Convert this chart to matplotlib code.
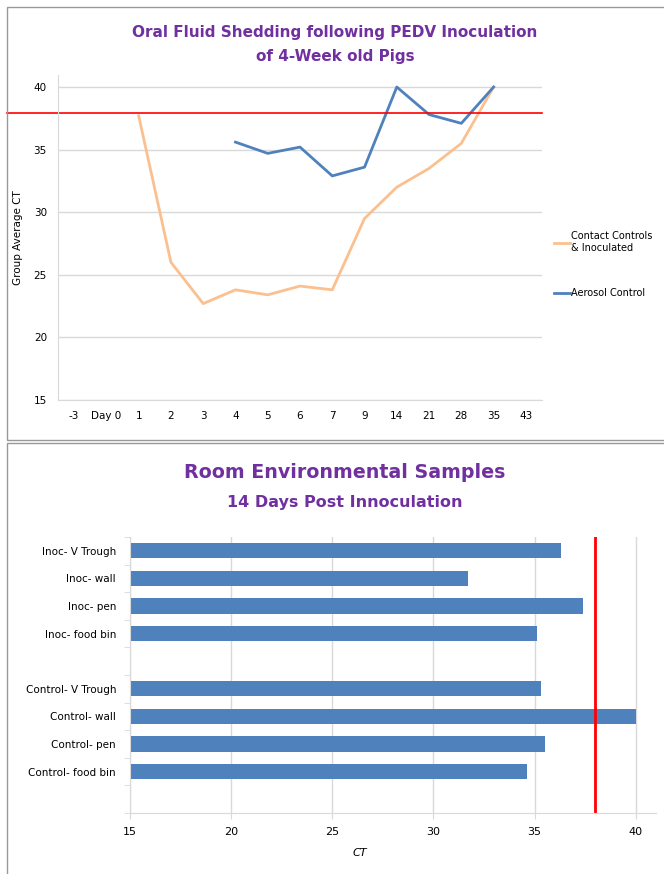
import numpy as np
import matplotlib
matplotlib.use("Agg")
import matplotlib.pyplot as plt
from matplotlib.patches import Rectangle

# top chart data
days = ['-3', 'Day 0', '1', '2', '3', '4', '5', '6', '7', '9', '14', '21', '28', '35', '43']
contact = [np.nan, np.nan, 37.7, 26.0, 22.7, 23.8, 23.4, 24.1, 23.8, 29.5, 32.0, 33.5, 35.5, 40.0, np.nan]
aerosol = [np.nan, np.nan, np.nan, np.nan, np.nan, 35.6, 34.7, 35.2, 32.9, 33.6, 40.0, 37.8, 37.1, 40.0, np.nan]
cutoff_top = 37.9

# bottom chart data (top to bottom)
samples = ['Inoc- V Trough', 'Inoc- wall', 'Inoc- pen', 'Inoc- food bin', '',
           'Control- V Trough', 'Control- wall', 'Control- pen', 'Control- food bin', '']
ct_values = [36.3, 31.7, 37.4, 35.1, np.nan, 35.3, 40.0, 35.5, 34.6, np.nan]
cutoff_bottom = 38.0

purple = '#7030A0'
orange = '#FAC090'
blue = '#4F81BD'
grid_c = '#D9D9D9'

plt.rcParams['font.family'] = 'DejaVu Sans'
fig = plt.figure(figsize=(6.64, 8.74), dpi=100)

# panel frames
fig.patches.append(Rectangle((7/664, 1-440/874), 1.0, 433/874, transform=fig.transFigure,
                             fill=False, edgecolor='#999999', lw=1))
fig.patches.append(Rectangle((7/664, -0.01), 1.0, 1-443/874+0.01, transform=fig.transFigure,
                             fill=False, edgecolor='#999999', lw=1))

# ---- top chart ----
ax1 = fig.add_axes([58/664, 1-400/874, 484/664, 325.5/874])
x = np.arange(len(days))
ax1.plot(x, contact, color=orange, lw=2, label='Contact Controls\n& Inoculated')
ax1.plot(x, aerosol, color=blue, lw=2, label='Aerosol Control')
ax1.axhline(cutoff_top, xmin=-0.105, xmax=1, color='red', lw=1.2, clip_on=False)
ax1.set_xlim(-0.5, len(days)-0.5)
ax1.set_ylim(15, 41)
ax1.set_yticks([15, 20, 25, 30, 35, 40])
ax1.set_xticks(x)
ax1.set_xticklabels(days)
ax1.tick_params(length=0, labelsize=7.5, pad=8)
ax1.grid(axis='y', color=grid_c, lw=1)
ax1.set_axisbelow(True)
for s in ['top', 'right']:
    ax1.spines[s].set_visible(False)
ax1.spines['left'].set_color(grid_c)
ax1.spines['bottom'].set_color(grid_c)
ax1.set_ylabel('Group Average CT', fontsize=7.5, labelpad=8)
ax1.legend(loc='upper left', bbox_to_anchor=(1.017, 0.53), frameon=False, fontsize=7,
           handlelength=1.6, handletextpad=0.1, labelspacing=3.6, borderaxespad=0)
fig.text(335/664, 1-32/874, 'Oral Fluid Shedding following PEDV Inoculation',
         ha='center', va='center', fontsize=11, fontweight='bold', color=purple)
fig.text(335/664, 1-57/874, 'of 4-Week old Pigs',
         ha='center', va='center', fontsize=11, fontweight='bold', color=purple)

# ---- bottom chart ----
ax2 = fig.add_axes([130/664, 1-813/874, 526/664, 276/874])
y = np.arange(len(samples))
ax2.barh(y, np.array(ct_values) - 15, left=15, height=0.55, color=blue)
ax2.axvline(cutoff_bottom, color='red', lw=2)
ax2.set_xlim(15, 41)
ax2.set_ylim(len(samples)-0.5, -0.5)
ax2.set_xticks([15, 20, 25, 30, 35, 40])
ax2.set_yticks(y)
ax2.set_yticklabels(samples, fontsize=7.5)
ax2.set_yticks(np.arange(len(samples)+1)-0.5, minor=True)
ax2.tick_params(axis='y', which='major', length=0, pad=10)
ax2.tick_params(axis='y', which='minor', length=4, color=grid_c)
ax2.tick_params(axis='x', length=4, color=grid_c, labelsize=8, pad=6)
ax2.grid(axis='x', color=grid_c, lw=1)
ax2.set_axisbelow(True)
for s in ['top', 'right']:
    ax2.spines[s].set_visible(False)
ax2.spines['left'].set_color(grid_c)
ax2.spines['bottom'].set_color(grid_c)
ax2.set_xlabel('CT', fontsize=8, style='italic')
ax2.xaxis.set_label_coords((360-130)/526, -0.125)
fig.text(345/664, 1-473/874, 'Room Environmental Samples',
         ha='center', va='center', fontsize=13.7, fontweight='bold', color=purple)
fig.text(345/664, 1-503/874, '14 Days Post Innoculation',
         ha='center', va='center', fontsize=11.5, fontweight='bold', color=purple)

fig.savefig('out.png', dpi=100)
